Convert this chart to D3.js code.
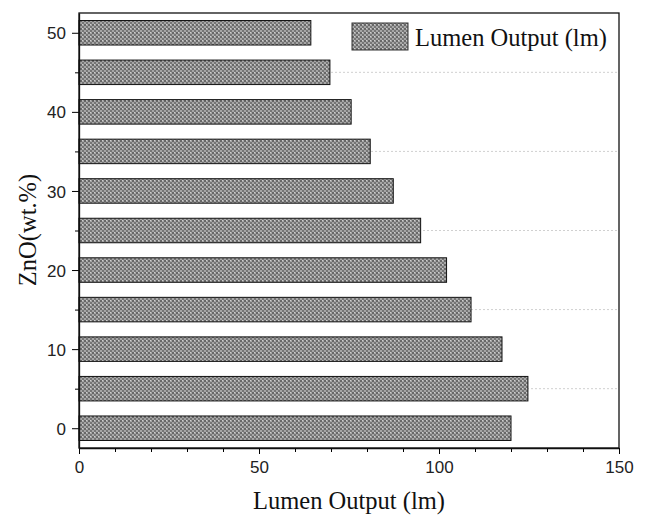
<!DOCTYPE html>
<html>
<head>
<meta charset="utf-8">
<script src="https://cdn.jsdelivr.net/npm/d3@7"></script>
<style>
body { margin: 0; background: #fff; }
</style>
</head>
<body>
<script>
var categories = [0, 5, 10, 15, 20, 25, 30, 35, 40, 45, 50];
var lumen = [120, 124.7, 117.5, 108.9, 102.1, 94.9, 87.3, 80.9, 75.6, 69.7, 64.4];
var xTicks = [0, 50, 100, 150];
var yTicks = [0, 10, 20, 30, 40, 50];
var seriesName = "Lumen Output (lm)";

var W = 649, H = 520;
var pLeft = 79, pRight = 619, pTop = 13, pBottom = 448;

var svg = d3.select("body").append("svg")
	.attr("width", W)
	.attr("height", H);

// hatched grey fill like the original plot
var defs = svg.append("defs");
var pat = defs.append("pattern")
	.attr("id", "weave")
	.attr("patternUnits", "userSpaceOnUse")
	.attr("width", 4)
	.attr("height", 4);
pat.append("rect").attr("width", 4).attr("height", 4).style("fill", "#a6a6a6");
pat.append("rect").attr("x", 0).attr("y", 0).attr("width", 2).attr("height", 2).style("fill", "#686868");
pat.append("rect").attr("x", 2).attr("y", 2).attr("width", 2).attr("height", 2).style("fill", "#767676");
pat.append("rect").attr("x", 2).attr("y", 0).attr("width", 1).attr("height", 1).style("fill", "#cfcfcf");

var x = d3.scaleLinear().domain([0, 150]).range([pLeft, pRight]);
var y = d3.scaleLinear().domain([-2.5, 52.5]).range([pBottom, pTop]);
var barH = 24.5;

// faint dotted lines at the minor y positions
svg.selectAll(".grid")
	.data(categories.filter(function(d) { return d % 10 !== 0; }))
	.enter().append("line")
		.attr("x1", pLeft)
		.attr("x2", pRight)
		.attr("y1", function(d) { return y(d); })
		.attr("y2", function(d) { return y(d); })
		.style("stroke", "#d0d0d0")
		.style("stroke-width", 1)
		.style("stroke-dasharray", "2,2");

svg.selectAll(".bar")
	.data(categories)
	.enter().append("rect")
		.attr("x", x(0))
		.attr("y", function(d) { return y(d) - barH / 2; })
		.attr("width", function(d, i) { return x(lumen[i]) - x(0); })
		.attr("height", barH)
		.style("fill", "url(#weave)")
		.style("stroke", "#111")
		.style("stroke-width", 1);

// x axis
var xAxis = svg.append("g")
	.attr("transform", "translate(0," + pBottom + ")")
	.call(d3.axisBottom(x).tickValues(d3.range(0, 151, 10)).tickSize(5).tickSizeOuter(0)
		.tickFormat(function(d) { return xTicks.indexOf(d) >= 0 ? d : ""; }));
xAxis.selectAll("text")
	.attr("y", 10)
	.attr("dy", "0.9em")
	.style("font-family", "Liberation Sans, Arial, sans-serif")
	.style("font-size", "17px")
	.style("fill", "#222");
xAxis.selectAll("line")
	.attr("y2", function(d) { return xTicks.indexOf(d) >= 0 ? 6 : 4; });

// y axis
var yAxis = svg.append("g")
	.attr("transform", "translate(" + pLeft + ",0)")
	.call(d3.axisLeft(y).tickValues(categories).tickSize(6).tickSizeOuter(0)
		.tickFormat(function(d) { return yTicks.indexOf(d) >= 0 ? d : ""; }));
yAxis.selectAll("text")
	.attr("x", -13)
	.attr("dy", "0.36em")
	.style("font-family", "Liberation Sans, Arial, sans-serif")
	.style("font-size", "17px")
	.style("fill", "#222");
yAxis.selectAll("line")
	.attr("x2", function(d) { return yTicks.indexOf(d) >= 0 ? -7 : -4; });

svg.selectAll(".domain").style("stroke", "#111").style("stroke-width", 1.3);

// frame
svg.append("rect")
	.attr("x", pLeft)
	.attr("y", pTop)
	.attr("width", pRight - pLeft)
	.attr("height", pBottom - pTop)
	.style("fill", "none")
	.style("stroke", "#111")
	.style("stroke-width", 1.3);

// legend
svg.append("rect")
	.attr("x", 352)
	.attr("y", 23)
	.attr("width", 56)
	.attr("height", 27)
	.style("fill", "url(#weave)")
	.style("stroke", "#333")
	.style("stroke-width", 1);
svg.append("text")
	.attr("x", 415)
	.attr("y", 46)
	.style("font-family", "Liberation Serif, Times New Roman, serif")
	.style("font-size", "24.5px")
	.style("fill", "#111")
	.text(seriesName);

// axis titles
svg.append("text")
	.attr("x", (pLeft + pRight) / 2)
	.attr("y", 509)
	.attr("text-anchor", "middle")
	.style("font-family", "Liberation Serif, Times New Roman, serif")
	.style("font-size", "24.5px")
	.style("fill", "#111")
	.text("Lumen Output (lm)");

svg.append("text")
	.attr("transform", "translate(36," + 230 + ")rotate(-90)")
	.attr("text-anchor", "middle")
	.style("font-family", "Liberation Serif, Times New Roman, serif")
	.style("font-size", "24.5px")
	.style("fill", "#111")
	.text("ZnO(wt.%)");
</script>
</body>
</html>
